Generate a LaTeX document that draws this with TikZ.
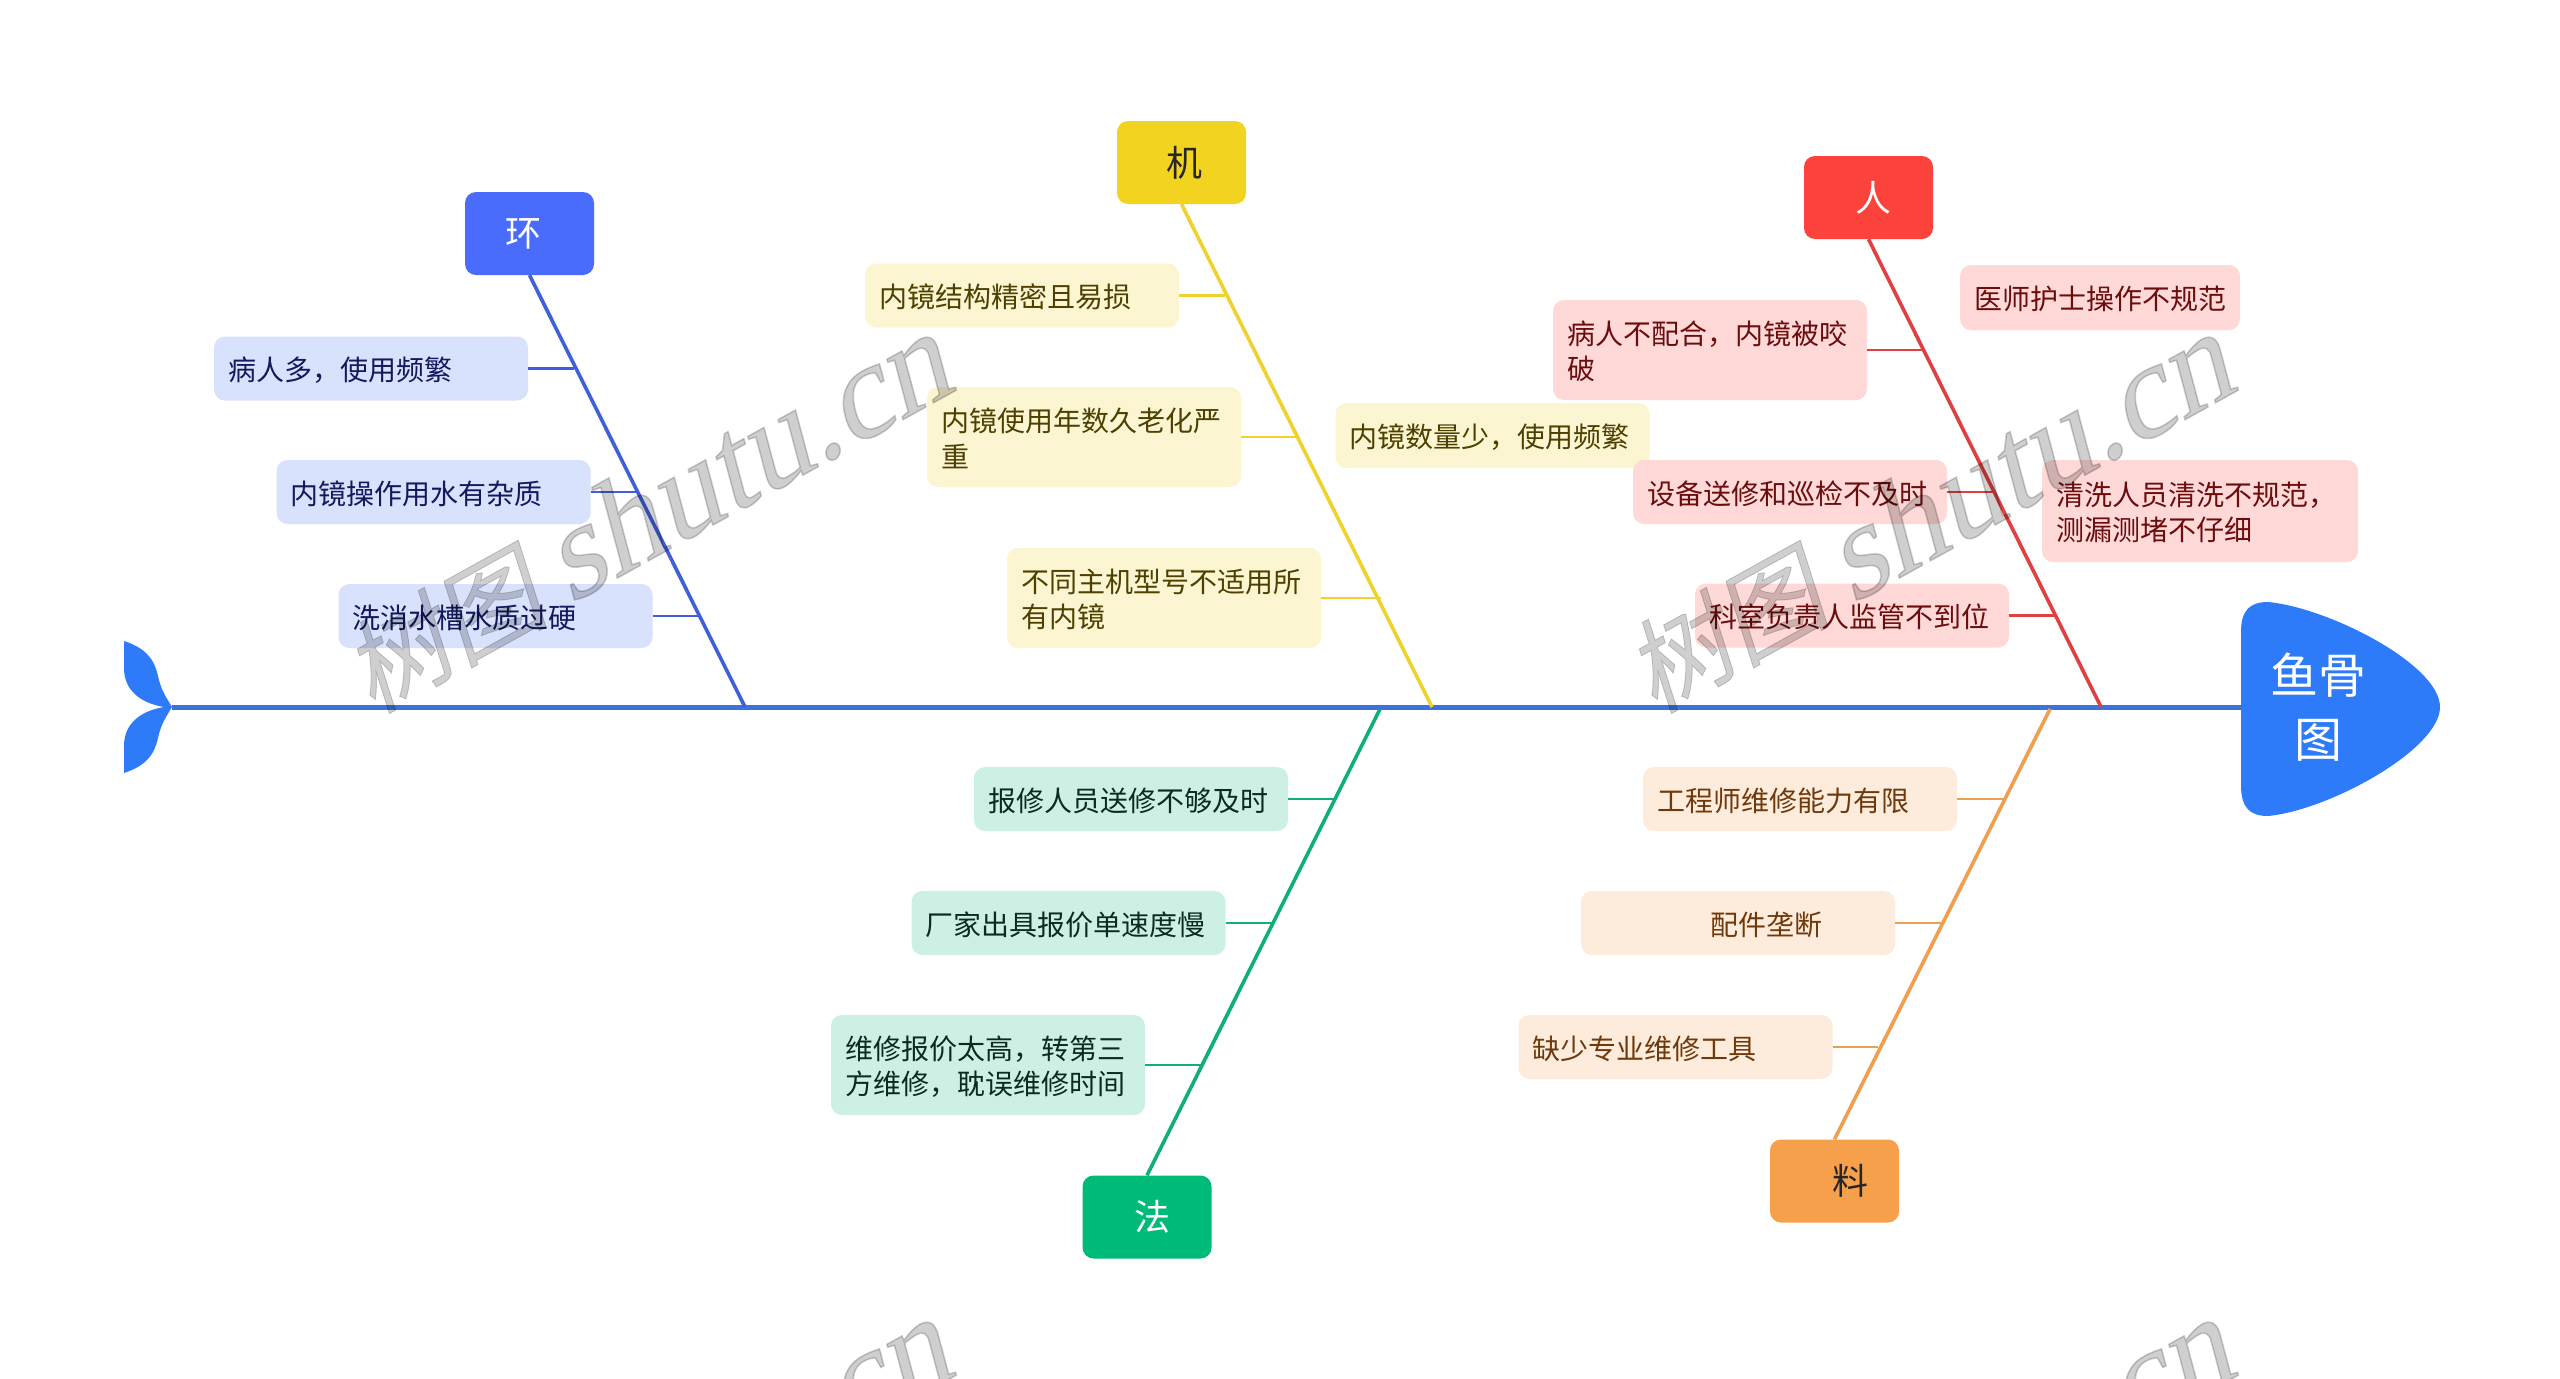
\documentclass[tikz,border=0pt]{standalone}
\usepackage{fontspec}
\setmainfont{Noto Sans CJK SC}
\newfontfamily\wmfont[FakeBold=1.2,FakeSlant=0.25]{Liberation Serif}
\newfontfamily\wmcjk[FakeSlant=0.2,FakeBold=0.8]{Noto Sans CJK SC}
\newcommand{\wmtext}{{\fontsize{102}{105}\selectfont\wmcjk 树图}\hspace{22pt}{\fontsize{132}{135}\selectfont\wmfont shutu.cn}}
\tikzset{
  leafbox/.style={rounded corners=11pt,inner xsep=14pt,inner ysep=0pt,text width=286pt,minimum height=64pt,align=left,font=\fontsize{28}{35.5}\selectfont,execute at begin node={\rule{0pt}{26.5pt}}},
  catbox/.style={rounded corners=11pt,inner sep=0pt,minimum width=129pt,minimum height=83pt,font=\fontsize{36}{40}\selectfont},
  bone/.style={line width=3.6pt},
  twig/.style={line width=2.4pt},
  watermark/.style={rotate=29,text=black,opacity=0.19}
}
\definecolor{spinec}{HTML}{3C72DC}
\definecolor{fishc}{HTML}{2E7BFA}
\definecolor{hbox}{HTML}{4A6CFD}\definecolor{hline}{HTML}{3F5FDC}\definecolor{hbg}{HTML}{D9E2FC}\definecolor{htx}{HTML}{14185C}
\definecolor{jbox}{HTML}{F2D31F}\definecolor{jline}{HTML}{EFD22E}\definecolor{jbg}{HTML}{FBF5D2}\definecolor{jtx}{HTML}{4D4000}
\definecolor{rbox}{HTML}{FC433B}\definecolor{rline}{HTML}{E04040}\definecolor{rbg}{HTML}{FED9D8}\definecolor{rtx}{HTML}{6B0D0D}
\definecolor{fbox}{HTML}{00BB77}\definecolor{fline}{HTML}{10AE7C}\definecolor{fbg}{HTML}{CCF1E4}\definecolor{ftx}{HTML}{0C2A20}
\definecolor{lbox}{HTML}{F7A04C}\definecolor{lline}{HTML}{EE9F52}\definecolor{lbg}{HTML}{FDECDC}\definecolor{ltx}{HTML}{6E3A0C}
\begin{document}
\begin{tikzpicture}[x=1pt,y=-1pt]
\useasboundingbox (0,0) rectangle (2560,1379);
\fill[white] (0,0) rectangle (2560,1379);
% tail and head
\fill[fishc] (172,707) .. controls (166,697) and (161,690) .. (158,676) .. controls (154,658) and (145,648) .. (124,641) -- (124,668) .. controls (124,690) and (140,703) .. (164,707)
  .. controls (140,711) and (124,724) .. (124,746) -- (124,773) .. controls (145,766) and (154,756) .. (158,738) .. controls (161,724) and (166,717) .. (172,707) -- cycle;
\fill[fishc] (2241,707) -- (2241,632) .. controls (2241,610) and (2250,602) .. (2268,602) .. controls (2330,608) and (2440,665) .. (2440,707)
  .. controls (2440,749) and (2330,810) .. (2268,816) .. controls (2250,816) and (2241,808) .. (2241,785) -- cycle;
\coordinate (tail) at (172,707);
\coordinate (headend) at (2241,707);
\node[inner sep=0pt,text=white,align=center,font=\fontsize{48}{64}\selectfont] (head) at (2318,707) {鱼骨\\图};
% spine
\draw[spinec,line width=5pt] (tail) -- (headend);
\coordinate (sH) at (745,707);
\coordinate (sJ) at (1432,707);
\coordinate (sR) at (2101,707);
\coordinate (sF) at (1380,709);
\coordinate (sL) at (2050,709);
% categories
\node[catbox,fill=hbox,text=white] (huan) at (529.5,233.5) {\hspace*{-13pt}环};
\node[catbox,fill=jbox,text=black!85] (ji) at (1181.5,162.5) {\hspace*{6pt}机};
\node[catbox,fill=rbox,text=white] (ren) at (1868.5,197.5) {\hspace*{10pt}人};
\node[catbox,fill=fbox,text=white] (fa) at (1147,1217) {\hspace*{10pt}法};
\node[catbox,fill=lbox,text=black!85] (liao) at (1834.5,1181) {\hspace*{32pt}料};
\draw[hline,bone] (huan.south) -- (sH);
\draw[jline,bone] (ji.south) -- (sJ);
\draw[rline,bone] (ren.south) -- (sR);
\draw[fline,bone] (fa.north) -- (sF);
\draw[lline,bone] (liao.north) -- (sL);
% leaves: huan
\node[leafbox,fill=hbg,text=htx] (h1) at (371,368.5) {病人多，使用频繁};
\node[leafbox,fill=hbg,text=htx] (h2) at (433.5,492) {内镜操作用水有杂质};
\node[leafbox,fill=hbg,text=htx] (h3) at (495.5,616) {洗消水槽水质过硬};
\coordinate (hj1) at (574,368.5);
\coordinate (hj2) at (636,492);
\coordinate (hj3) at (699,616);
\draw[hline,twig] (h1.east) -- (hj1);
\draw[hline,twig] (h2.east) -- (hj2);
\draw[hline,twig] (h3.east) -- (hj3);
% leaves: ji
\node[leafbox,fill=jbg,text=jtx] (j1) at (1022,295.5) {内镜结构精密且易损};
\node[leafbox,fill=jbg,text=jtx,minimum height=100pt] (j2) at (1084,437) {内镜使用年数久老化严\\重};
\node[leafbox,fill=jbg,text=jtx,minimum height=100pt] (j3) at (1164,598) {不同主机型号不适用所\\有内镜};
\node[leafbox,fill=jbg,text=jtx,minimum height=65pt] (j4) at (1492.5,435.5) {内镜数量少，使用频繁};
\coordinate (jj1) at (1225,295.5);
\coordinate (jj2) at (1298,437);
\coordinate (jj3) at (1381,598);
\draw[jline,twig] (j1.east) -- (jj1);
\draw[jline,twig] (j2.east) -- (jj2);
\draw[jline,twig] (j3.east) -- (jj3);
% leaves: ren
\node[leafbox,fill=rbg,text=rtx,text width=252pt,minimum height=65pt] (r1) at (2100,297.5) {医师护士操作不规范};
\node[leafbox,fill=rbg,text=rtx,minimum height=100pt] (r2) at (1710,350) {病人不配合，内镜被咬\\破};
\node[leafbox,fill=rbg,text=rtx] (r3) at (1790,492) {设备送修和巡检不及时};
\node[leafbox,fill=rbg,text=rtx,text width=288pt,minimum height=102pt] (r4) at (2200,511) {清洗人员清洗不规范，\\测漏测堵不仔细};
\node[leafbox,fill=rbg,text=rtx] (r5) at (1852,615.5) {科室负责人监管不到位};
\coordinate (rj2) at (1923,350);
\coordinate (rj3) at (1993,492);
\coordinate (rj5) at (2057,615.5);
\draw[rline,twig] (r2.east) -- (rj2);
\draw[rline,twig] (r3.east) -- (rj3);
\draw[rline,twig] (r5.east) -- (rj5);
% leaves: fa
\node[leafbox,fill=fbg,text=ftx] (f1) at (1131,799) {报修人员送修不够及时};
\node[leafbox,fill=fbg,text=ftx] (f2) at (1068.5,923) {厂家出具报价单速度慢};
\node[leafbox,fill=fbg,text=ftx,minimum height=100pt] (f3) at (988,1065) {维修报价太高，转第三\\方维修，耽误维修时间};
\coordinate (fj1) at (1335,799);
\coordinate (fj2) at (1273,923);
\coordinate (fj3) at (1202,1065);
\draw[fline,twig] (f1.east) -- (fj1);
\draw[fline,twig] (f2.east) -- (fj2);
\draw[fline,twig] (f3.east) -- (fj3);
% leaves: liao
\node[leafbox,fill=lbg,text=ltx] (l1) at (1800,799) {工程师维修能力有限};
\node[leafbox,fill=lbg,text=ltx] (l2) at (1738,923) {\hspace*{115pt}配件垄断};
\node[leafbox,fill=lbg,text=ltx] (l3) at (1675.5,1047) {缺少专业维修工具};
\coordinate (lj1) at (2004,799);
\coordinate (lj2) at (1943,923);
\coordinate (lj3) at (1878,1047);
\draw[lline,twig] (l1.east) -- (lj1);
\draw[lline,twig] (l2.east) -- (lj2);
\draw[lline,twig] (l3.east) -- (lj3);
% watermarks
\begin{scope}
\clip (0,0) rectangle (2560,1379);
\node[watermark] (w1) at (645,515) {\wmtext};
\node[watermark] (w2) at (1927,515) {\wmtext};
\node[watermark] (w3) at (645,1500) {\wmtext};
\node[watermark] (w4) at (1927,1500) {\wmtext};
\end{scope}
\end{tikzpicture}
\end{document}
